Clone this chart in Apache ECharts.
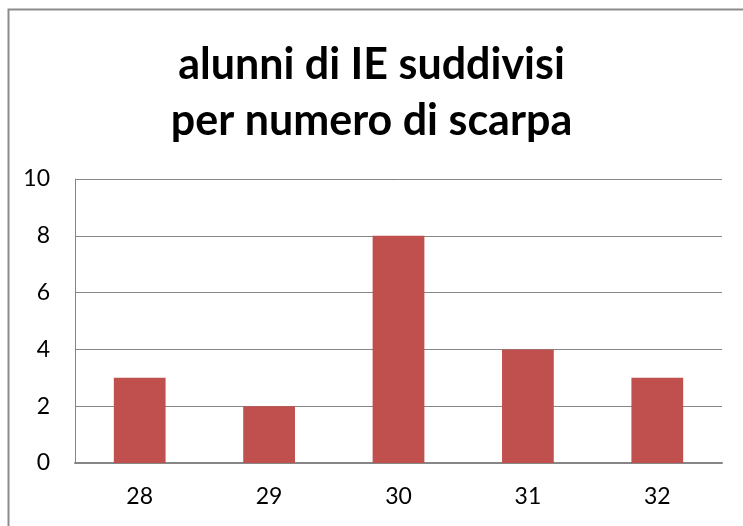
<!DOCTYPE html>
<html><head><meta charset="utf-8">
<script src="https://cdn.jsdelivr.net/npm/echarts@6/dist/echarts.min.js"></script>
<style>html,body{margin:0;padding:0;background:#fff}#c{width:743px;height:526px}</style>
</head><body><div id="c"></div>
<script>
const titleText = 'alunni di IE suddivisi\nper numero di scarpa';
const categories = ['28', '29', '30', '31', '32'];
const values = [3, 2, 8, 4, 3];
const yTicks = [0, 2, 4, 6, 8, 10];

const chart = echarts.init(document.getElementById('c'));
const font = 'Lato, "Open Sans", sans-serif';
chart.setOption({
  animation: false,
  backgroundColor: '#fff',
  graphic: [{
    type: 'rect', left: 6, top: 7,
    shape: { x: 0, y: 0, width: 800, height: 600 },
    style: { fill: 'none', stroke: '#8c8c8c', lineWidth: 2 }
  }],
  title: {
    text: titleText, left: 'center', top: 32,
    textStyle: { fontFamily: font, fontWeight: 'bold', fontSize: 43, lineHeight: 56, color: '#000' }
  },
  grid: { left: 75, right: 21, top: 179, bottom: 63, containLabel: false },
  xAxis: {
    type: 'category', data: categories,
    axisLine: { lineStyle: { color: '#868686', width: 2 } },
    axisTick: { show: false },
    axisLabel: { fontFamily: font, fontSize: 23, color: '#000', margin: 22 }
  },
  yAxis: {
    type: 'value', min: yTicks[0], max: yTicks[yTicks.length - 1], interval: 2,
    axisLine: { show: true, lineStyle: { color: '#868686', width: 1 } },
    axisTick: { show: false },
    splitLine: { lineStyle: { color: '#868686', width: 1 } },
    axisLabel: { fontFamily: font, fontSize: 23, color: '#000', margin: 25 }
  },
  series: [{
    type: 'bar', data: values, barWidth: '40%',
    itemStyle: { color: '#C0504D' }
  }]
});
</script></body></html>
